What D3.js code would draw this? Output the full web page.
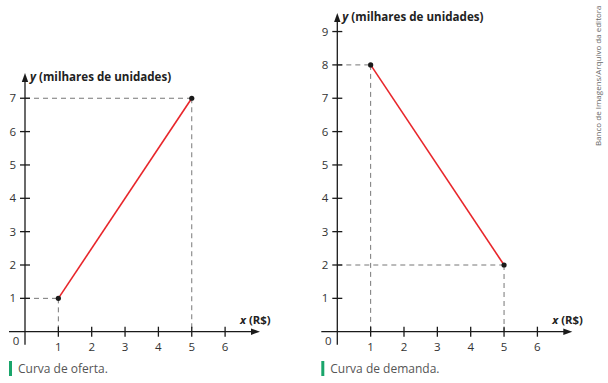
<!DOCTYPE html>
<html>
<head>
<meta charset="utf-8">
<script src="https://cdn.jsdelivr.net/npm/d3@7"></script>
<style>
  body { margin: 0; background: #fff; }
  text { font-family: "Open Sans", "Noto Sans", sans-serif; }
</style>
</head>
<body>
<svg id="chart" width="608" height="383"></svg>
<script>
// Data
var xTicks = [1, 2, 3, 4, 5, 6];
var supplyYTicks = [1, 2, 3, 4, 5, 6, 7];
var demandYTicks = [1, 2, 3, 4, 5, 6, 7, 8, 9];
var supplyPoints = [{ x: 1, y: 1 }, { x: 5, y: 7 }];
var demandPoints = [{ x: 1, y: 8 }, { x: 5, y: 2 }];
var yLabel = "y (milhares de unidades)";
var xLabel = "x (R$)";

var svg = d3.select("#chart");
var unit = 33.35;

function drawPanel(opts) {
  var g = svg.append("g").attr("transform", "translate(" + opts.left + ",0)");
  var x = d3.scaleLinear().domain([0, 1]).range([0, unit]);
  var y = d3.scaleLinear().domain([0, 1]).range([331.7, 331.7 - unit]);
  var axisColor = "#1a1a1a";

  // dashed guides
  opts.points.forEach(function (p) {
    g.append("line")
      .attr("x1", x(0)).attr("x2", x(p.x))
      .attr("y1", y(p.y)).attr("y2", y(p.y))
      .attr("stroke", "#777").attr("stroke-width", 1)
      .attr("stroke-dasharray", "5,4");
    g.append("line")
      .attr("x1", x(p.x)).attr("x2", x(p.x))
      .attr("y1", y(p.y)).attr("y2", y(0))
      .attr("stroke", "#777").attr("stroke-width", 1)
      .attr("stroke-dasharray", "5,4");
  });

  // x axis
  g.append("line")
    .attr("x1", -16).attr("x2", 228)
    .attr("y1", y(0)).attr("y2", y(0))
    .attr("stroke", axisColor).attr("stroke-width", 1.3);
  g.append("path")
    .attr("d", "M" + 235 + "," + y(0) + "l-9,-3.2l0,6.4z")
    .attr("fill", axisColor);
  g.selectAll(".xt").data(xTicks).enter().append("line")
    .attr("x1", function (d) { return x(d); })
    .attr("x2", function (d) { return x(d); })
    .attr("y1", y(0) - 5).attr("y2", y(0) + 5)
    .attr("stroke", axisColor).attr("stroke-width", 1.3);
  g.selectAll(".xl").data(xTicks).enter().append("text")
    .attr("x", function (d) { return x(d); })
    .attr("y", y(0) + 19)
    .attr("text-anchor", "middle")
    .attr("font-size", 11.5).attr("fill", "#333")
    .text(function (d) { return d; });

  // y axis
  g.append("line")
    .attr("x1", 0).attr("x2", 0)
    .attr("y1", y(0) + 13).attr("y2", opts.top + 6)
    .attr("stroke", axisColor).attr("stroke-width", 1.3);
  g.append("path")
    .attr("d", "M0," + (opts.top - 1) + "l-3.2,9l6.4,0z")
    .attr("fill", axisColor);
  g.selectAll(".yt").data(opts.yTicks).enter().append("line")
    .attr("x1", -5).attr("x2", 5)
    .attr("y1", function (d) { return y(d); })
    .attr("y2", function (d) { return y(d); })
    .attr("stroke", axisColor).attr("stroke-width", 1.3);
  g.selectAll(".yl").data(opts.yTicks).enter().append("text")
    .attr("x", -9)
    .attr("y", function (d) { return y(d) + 4; })
    .attr("text-anchor", "end")
    .attr("font-size", 11.5).attr("fill", "#333")
    .text(function (d) { return d; });
  g.append("text")
    .attr("x", -9).attr("y", y(0) + 13)
    .attr("text-anchor", "middle")
    .attr("font-size", 11.5).attr("fill", "#333")
    .text("0");

  // axis labels
  var yl = g.append("text")
    .attr("x", 5).attr("y", opts.top + 7)
    .attr("font-size", 11.6).attr("font-weight", "bold").attr("fill", "#222");
  yl.append("tspan").attr("font-style", "italic").text(yLabel.slice(0, 1));
  yl.append("tspan").text(yLabel.slice(1));
  var xl = g.append("text")
    .attr("x", 215).attr("y", y(0) - 8)
    .attr("font-size", 11.3).attr("font-weight", "bold").attr("fill", "#222");
  xl.append("tspan").attr("font-style", "italic").text(xLabel.slice(0, 1));
  xl.append("tspan").text(xLabel.slice(1));

  // line and points
  var line = d3.line().x(function (d) { return x(d.x); }).y(function (d) { return y(d.y); });
  g.append("path").datum(opts.points)
    .attr("d", line).attr("fill", "none")
    .attr("stroke", "#e8262b").attr("stroke-width", 1.6);
  g.selectAll(".pt").data(opts.points).enter().append("circle")
    .attr("cx", function (d) { return x(d.x); })
    .attr("cy", function (d) { return y(d.y); })
    .attr("r", 2.6).attr("fill", "#1a1a1a");

  // caption
  g.append("rect")
    .attr("x", -16).attr("y", 361).attr("width", 3).attr("height", 15)
    .attr("fill", "#1aa56b");
  g.append("text")
    .attr("x", -7).attr("y", 373)
    .attr("font-size", 12).attr("fill", "#555")
    .text(opts.caption);
}

drawPanel({ left: 25, top: 74, yTicks: supplyYTicks, points: supplyPoints, caption: "Curva de oferta." });
drawPanel({ left: 337.3, top: 14, yTicks: demandYTicks, points: demandPoints, caption: "Curva de demanda." });

// credit
svg.append("text")
  .attr("transform", "translate(601,146) rotate(-90)")
  .attr("font-size", 8).attr("fill", "#666")
  .text("Banco de Imagens/Arquivo da editora");
</script>
</body>
</html>
